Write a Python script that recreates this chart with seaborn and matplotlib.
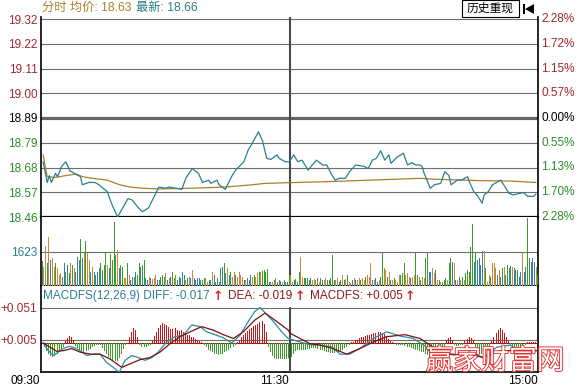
import numpy as np
import pandas as pd
import matplotlib
matplotlib.use("Agg")
import matplotlib.pyplot as plt
import seaborn as sns
from matplotlib.patches import Rectangle, Polygon
import matplotlib.patheffects as pe

sns.set_theme(style="white")
plt.rcParams['font.family'] = ['Liberation Sans', 'Noto Sans CJK SC', 'DejaVu Sans']
plt.rcParams['axes.unicode_minus'] = False

# ---------------- data ----------------
price_labels = ["19.32", "19.22", "19.11", "19.00", "18.89", "18.79", "18.68", "18.57", "18.46"]
pct_labels = ["2.28%", "1.72%", "1.15%", "0.57%", "0.00%", "0.55%", "1.13%", "1.70%", "2.28%"]
time_labels = ["09:30", "11:30", "15:00"]
time_pos = [0, 120, 240]

price_min = [1, 3, 4, 5, 7, 8, 10, 12, 14, 16,
             19, 20, 23, 26, 28, 32, 34, 37, 42, 44,
             47, 49, 52, 55, 57, 60, 62, 65, 68, 70,
             73, 76, 78, 81, 82, 85, 86, 89, 92, 94,
             98, 100, 102, 105, 107, 109, 111, 114, 115, 118,
             120, 122, 124, 126, 127, 129, 131, 133, 136, 138,
             140, 142, 144, 147, 149, 152, 156, 158, 160, 162,
             164, 166, 168, 169, 172, 175, 177, 179, 181, 183,
             184, 185, 188, 190, 193, 195, 197, 198, 201, 203,
             206, 207, 209, 211, 213, 214, 216, 218, 222, 224,
             226, 228, 230, 233, 235, 238, 239]
price_val = [18.70, 18.61, 18.64, 18.61, 18.65, 18.635, 18.68, 18.70, 18.66, 18.65,
             18.635, 18.60, 18.61, 18.61, 18.60, 18.57, 18.52, 18.46, 18.54, 18.534,
             18.50, 18.483, 18.50, 18.556, 18.59, 18.585, 18.59, 18.585, 18.58, 18.63,
             18.67, 18.65, 18.61, 18.62, 18.606, 18.62, 18.60, 18.58, 18.635, 18.664,
             18.70, 18.75, 18.78, 18.83, 18.79, 18.715, 18.71, 18.73, 18.715, 18.70,
             18.70, 18.73, 18.70, 18.707, 18.693, 18.664, 18.686, 18.707, 18.686, 18.686,
             18.65, 18.62, 18.628, 18.628, 18.657, 18.686, 18.68, 18.67, 18.707, 18.715,
             18.748, 18.707, 18.73, 18.693, 18.72, 18.737, 18.686, 18.696, 18.686, 18.686,
             18.68, 18.65, 18.585, 18.60, 18.606, 18.657, 18.64, 18.60, 18.62, 18.62,
             18.635, 18.61, 18.57, 18.55, 18.52, 18.556, 18.57, 18.60, 18.62, 18.592,
             18.563, 18.556, 18.56, 18.566, 18.55, 18.55, 18.56]

avg_min = [1, 3, 7, 12, 17, 20, 25, 32, 38, 43, 49, 57, 73, 89, 102, 108, 123, 136, 159, 183, 190, 212, 227, 239]
avg_val = [18.73, 18.635, 18.632, 18.64, 18.647, 18.635, 18.628, 18.62, 18.60, 18.59, 18.585, 18.582,
           18.585, 18.59, 18.60, 18.606, 18.61, 18.613, 18.62, 18.628, 18.624, 18.618, 18.616, 18.61]

vol_am = [1190, 920, 1910, 1080, 2350, 1240, 1320, 920, 1080, 840,
          520, 600, 450, 1080, 680, 1000, 600, 1080, 1000, 840,
          680, 1400, 1240, 2230, 1320, 1560, 2160, 1560, 1240, 680,
          920, 680, 520, 680, 840, 1080, 760, 1000, 1590, 1000,
          840, 1530, 1240, 3050, 1480, 1720, 840, 1000, 920, 370,
          370, 1080, 520, 290, 450, 450, 680, 520, 1080, 920,
          1000, 1240, 370, 290, 450, 370, 320, 370, 520, 290,
          290, 450, 520, 450, 600, 290, 370, 450, 680, 370,
          520, 290, 450, 370, 680, 520, 290, 370, 450, 370,
          760, 370, 290, 370, 370, 290, 290, 370, 370, 210,
          290, 290, 680, 520, 210, 370, 210, 840, 920, 1110,
          600, 840, 520, 680, 450, 680, 520, 450, 680, 520,
          450, 290, 290, 370, 290, 520, 450, 520, 450, 600,
          680, 680, 730, 760, 680, 800, 210, 210, 210, 290,
          370, 210, 290, 250, 210, 290, 210, 210, 520]
vol_am_kind = ("toogotoogo" "oottgtgogo" "tttgtogoot" "otgttgtggo" "tggggotggo"
               "ogottgtggt" "ggttotooot" "tggtototgg" "otgttgotot" "ottttgtgoo"
               "gtotgttgtg" "totgootooo" "ototgtogoo" "goggggttog" "otgtotgtg")
vol_pm = [520, 210, 290, 330, 210, 680, 1400, 450, 370, 370,
          400, 290, 370, 290, 320, 290, 370, 210, 370, 290,
          290, 370, 290, 290, 370, 1480, 290, 290, 370, 210,
          290, 520, 290, 320, 520, 210, 130, 290, 370, 290,
          290, 370, 290, 370, 290, 450, 520, 450, 1110, 290,
          290, 370, 210, 290, 450, 1590, 840, 760, 450, 680,
          290, 290, 370, 290, 210, 520, 520, 600, 1080, 520,
          600, 450, 370, 450, 520, 1560, 520, 450, 290, 450,
          370, 1320, 1590, 680, 680, 840, 600, 760, 290, 290,
          210, 210, 290, 370, 290, 1080, 1320, 1160, 1080, 290,
          290, 450, 290, 450, 290, 600, 760, 680, 1880, 2960,
          1160, 1560, 1240, 1320, 1000, 1690, 1690, 840, 210, 520,
          450, 1080, 1080, 840, 520, 760, 450, 840, 920, 520,
          1000, 840, 950, 920, 840, 760, 760, 450, 680, 1560,
          680, 920, 3230, 1320, 1160, 1320, 1160, 920, 520]
vol_pm_kind = ("ootgtgoogt" "gtgoootogt" "ootgggtoot" "gotogootot" "oogoogooot"
               "ottoggoogo" "togooogggo" "ootooggoto" "oggttootog" "otggoggtot"
               "otogoggggg" "tgttttogoo" "gooototgot" "gtgottgtto" "ttggtttog")
vol_ref = 1623

diff_min = [1.1, 3.5, 5.9, 8.4, 10.8, 13.2, 15.6, 18.8, 22.1, 25.3,
            28.5, 31.7, 34.9, 37.8, 40.6, 43.8, 47.0, 50.2, 53.5, 56.6,
            60.7, 64.7, 68.7, 72.8, 76.8, 80.0, 84.0, 88.0, 92.1, 96.1,
            100.1, 103.3, 105.8, 109.0, 112.2, 116.2, 119.4,
            125.1, 129.9, 134.7, 140.4, 144.4, 149.2, 154.9, 160.5, 166.9, 173.4,
            179.8, 186.3, 189.4, 194.3, 200.7, 207.2, 213.6, 220.1, 226.5, 231.3, 236.1, 239.4]
diff_val = [0, -11, -18, -13, -8, -5, -6, -11, -18, -16,
            -16, -28, -35, -42, -25, -18, -21, -25, -21, -13,
            1.5, 9, 11, 26, 23.5, 16, 12, 7.5, 0, 11,
            31, 45.5, 51, 41, 31, 16, 6.5,
            1.5, -2.5, -3, -6, -16, -16, -6, 6.5, 16, 10,
            6.5, -6, -21, -16, -16, -13, -21, -6, -3, -11, -11, -11]

dea_min = [1.1, 4.3, 7.6, 10.8, 14.8, 18.8, 23.7, 28.5, 33.3, 39.0,
           43.0, 47.8, 52.6, 57.5, 62.3, 67.1, 72.0, 77.6, 83.2, 88.0,
           92.9, 97.7, 103.3, 108.2, 113.8, 119.4, 120.2, 125.1, 129.9, 134.7,
           141.2, 147.6, 154.0, 160.5, 166.9, 175.8, 183.0, 187.9, 192.7, 199.1,
           207.2, 213.6, 221.7, 229.7, 239.4]
dea_val = [0, -6, -12, -11, -8, -13, -16, -16, -23, -35,
           -30, -24, -21, -13, -1, 9, 16, 23.5, 18.5, 12,
           6.5, 16, 33, 43, 31, 18.5, 14, 6.5, -1, -3,
           -8, -16, -8, 1.5, 9, 12, 6.5, -3, -13, -17,
           -16, -21, -11, -11, -11]

# MACD histogram, one value per minute (x 0.001)
hist_val = [0,
            -5, -10, -14, -17, -18, -17, -15, -12, -8, -4,
            3, 7, 10, 8, 4,
            -3, -6, -9, -11, -11, -10, -9, -7, -5, -3,
            -2, -1, -2,
            -6, -10, -14, -18, -21, -24, -25, -24, -20, -14, -7,
            -2, 0,
            8, 16, 21, 18, 9,
            -2, -4, -5, -4, -3, -1,
            5, 10, 16, 22, 26, 29, 28, 26, 23, 20, 20, 21, 19, 17, 18, 16, 14, 12, 11, 9, 8, 6, 5, 3, 2,
            -2, -5, -8, -10, -12, -14, -15, -16, -15, -14, -12, -10, -8, -6, -4, -2,
            2, 5, 8, 11, 14, 17, 20, 22, 24, 26, 28, 30, 31, 27, 16,
            -5, -12, -17, -20, -21, -22, -22, -22, -21, -21, -20,
            -18, -14, -10, -9, -9, -8, -9, -8, -7, -7, -6, -6, -6, -7, -8, -9, -10, -11, -12, -13,
            -13, -13, -12, -11, -10, -8, -6, -4, -2,
            1, 2, 4, 5, 7, 8, 9, 10, 11, 12, 13, 14, 15, 16, 16, 15, 13, 10, 6, 3,
            1, 0, -1, -1, -2, -2,
            -3, -4, -5, -6, -7, -8, -9, -10, -11, -12, -14, -16, -18, -20, -21, -20, -17, -13, -8, -4,
            3, 7, 8, 4,
            -2, -3, -3, -2, -1,
            3, 6, 8, 7, 3,
            -4, -9, -13, -15, -15, -12, -8, -3,
            3, 8, 14, 19, 21, 19, 14, 8, 3,
            -2, -4, -6, -6, -5, -4, -3, -2,
            1, 2, 2, 1, 1, 1]
macd_ticks = [0.051, 0.005]
macd_labels = ["+0.051", "+0.005"]

# ---------------- styling ----------------
RED = '#a02828'
GREEN = '#2e8b2e'
TEAL = '#2a7f8e'
GOLD = '#a8802a'
GRID = '#6e6e6e'
VOLC = {'g': '#3a9a2a', 'o': '#c48a3a', 't': '#3a80a6'}

W, H = 580, 389
L, R = 41, 538
fig = plt.figure(figsize=(W / 100, H / 100), dpi=100)
fig.patch.set_facecolor('white')


def box(top, bottom):
    return [L / W, 1 - bottom / H, (R - L) / W, (bottom - top) / H]


def fx(x):
    return x / W


def fy(y):
    return 1 - y / H


ax_p = fig.add_axes(box(17, 217))
ax_v = fig.add_axes(box(217, 286))
ax_m = fig.add_axes(box(286, 372))

for ax in (ax_p, ax_v, ax_m):
    ax.set_facecolor('white')
    ax.grid(False)
    ax.set_xlim(0, 240)
    for s in ('left', 'right'):
        ax.spines[s].set_color('black')
        ax.spines[s].set_linewidth(1.2)
    ax.spines['top'].set_visible(False)
    ax.spines['bottom'].set_color('black')
    ax.set_xticks([])

# ---- price panel ----
grid_pos = np.linspace(19.32, 18.46, 9)   # same order as price_labels (top to bottom)
step_px = (19.32 - 18.46) / 198
ax_p.set_ylim(18.46, 19.32 + 2 * step_px)
for i, g in enumerate(grid_pos):
    if price_labels[i] == "18.89":
        ax_p.axhline(g, color='#666666', lw=2.3, zorder=1)
    elif i < len(grid_pos) - 1:
        ax_p.axhline(g, color=GRID, lw=0.8, zorder=1)
ax_p.spines['bottom'].set_linewidth(1.6)

df_price = pd.DataFrame({'minute': price_min, 'price': price_val})
df_avg = pd.DataFrame({'minute': avg_min, 'price': avg_val})
sns.lineplot(data=df_avg, x='minute', y='price', ax=ax_p, color='#b07d2b', lw=0.9,
             estimator=None, sort=False, zorder=3)
sns.lineplot(data=df_price, x='minute', y='price', ax=ax_p, color=TEAL, lw=0.9,
             estimator=None, sort=False, zorder=4)
ax_p.set_xlabel('')
ax_p.set_ylabel('')
ax_p.set_xlim(0, 240)
ax_p.set_xticks([])

label_colors = [RED] * 4 + ['black'] + [GREEN] * 4
ax_p.set_yticks(grid_pos)
ax_p.set_yticklabels(price_labels, fontsize=8.5)
for lbl, c in zip(ax_p.get_yticklabels(), label_colors):
    lbl.set_color(c)
ax_p.tick_params(axis='y', length=0, pad=2.5)
for g, lab, c in zip(grid_pos, pct_labels, label_colors):
    ax_p.text(1 + 3 / (R - L), g, lab, transform=ax_p.get_yaxis_transform(),
              ha='left', va='center', fontsize=8.5, color=c, clip_on=False)
ax_p.axvline(120, color='#4a4a4a', lw=1.5, zorder=2)

# ---- volume panel ----
x_am = np.linspace(0.4, 119.6, len(vol_am))
x_pm = np.linspace(120.4, 239.6, len(vol_pm))
vx = np.concatenate([x_am, x_pm])
vv = np.array(vol_am + vol_pm)
vc = [VOLC[k] for k in (vol_am_kind + vol_pm_kind)]
ax_v.set_ylim(0, vol_ref * 69 / 34)
ax_v.axhline(vol_ref, color=GRID, lw=0.8, zorder=1)
ax_v.vlines(vx, 0, vv, colors=vc, lw=0.55, zorder=3, antialiased=False)
ax_v.set_yticks([vol_ref])
ax_v.set_yticklabels([str(vol_ref)], fontsize=8.5, color=TEAL)
ax_v.tick_params(axis='y', length=0, pad=2.5)
ax_v.spines['bottom'].set_linewidth(1.5)
ax_v.axvline(120, color='#4a4a4a', lw=1.5, zorder=2)

# ---- MACD panel ----
unit = 0.001
ax_m.set_ylim(-0.0417, 0.0819)
for t in macd_ticks:
    ax_m.axhline(t, color=GRID, lw=0.8, zorder=1)
ax_m.axhline(0, color='#8b1a1a', lw=0.8, zorder=2)
hx = np.arange(len(hist_val)) + 0.5
hv = np.array(hist_val) * unit
hc = ['#c01818' if v > 0 else '#3c9a28' for v in hv]
ax_m.vlines(hx, 0, hv, colors=hc, lw=0.55, zorder=3, antialiased=False)
df_diff = pd.DataFrame({'minute': diff_min, 'v': np.array(diff_val) * unit})
df_dea = pd.DataFrame({'minute': dea_min, 'v': np.array(dea_val) * unit})
sns.lineplot(data=df_diff, x='minute', y='v', ax=ax_m, color='#2a8fa0', lw=0.9,
             estimator=None, sort=False, zorder=5)
sns.lineplot(data=df_dea, x='minute', y='v', ax=ax_m, color='#7b1010', lw=0.9,
             estimator=None, sort=False, zorder=6)
ax_m.set_xlabel('')
ax_m.set_ylabel('')
ax_m.set_xlim(0, 240)
ax_m.set_xticks([])
ax_m.set_yticks(macd_ticks)
ax_m.set_yticklabels(macd_labels, fontsize=8.5, color=RED)
ax_m.tick_params(axis='y', length=0, pad=2.5)
ax_m.spines['bottom'].set_linewidth(1.2)
ax_m.axvline(120, ymin=0, ymax=(372 - 307.5) / 86, color='#4a4a4a', lw=1.5, zorder=4)

# MACD header
hy = fy(296)
fig.text(fx(43), hy, "MACDFS(12,26,9) DIFF: -0.017", color='#2a7f8e', fontsize=8.5, va='center')
fig.text(fx(213), hy, "↑", color='#e02020', fontsize=9, fontweight='bold', va='center',
         family='DejaVu Sans')
fig.text(fx(228), hy, "DEA: -0.019", color='#8b1a1a', fontsize=8.5, va='center')
fig.text(fx(295), hy, "↑", color='#e02020', fontsize=9, fontweight='bold', va='center',
         family='DejaVu Sans')
fig.text(fx(310), hy, "MACDFS: +0.005", color='#8b1a1a', fontsize=8.5, va='center')
fig.text(fx(405), hy, "↑", color='#e02020', fontsize=9, fontweight='bold', va='center',
         family='DejaVu Sans')

# title row
fig.text(fx(42), fy(8), "分时 均价: 18.63", color=GOLD, fontsize=8.8, va='center')
fig.text(fx(136), fy(8), "最新: 18.66", color='#2a8080', fontsize=8.8, va='center')

# history button and icon
fig.add_artist(Rectangle((fx(462), fy(17)), 57 / W, 17 / H, transform=fig.transFigure,
                         facecolor='white', edgecolor='black', lw=0.8))
fig.text(fx(490.5), fy(8.5), "历史重现", color='black', fontsize=8.5, ha='center', va='center')
fig.add_artist(Rectangle((fx(522.5), fy(14)), 2 / W, 10 / H, transform=fig.transFigure,
                         facecolor='black', edgecolor='none'))
fig.add_artist(Polygon([(fx(525), fy(9)), (fx(534), fy(4)), (fx(534), fy(14))],
                       closed=True, transform=fig.transFigure, facecolor='black', edgecolor='none'))

# watermark
wm = fig.text(fx(495), fy(361), "赢家财富网", fontsize=20, ha='center', va='center',
              family=['Noto Sans CJK SC'], color='white', zorder=4)
wm.set_path_effects([pe.withStroke(linewidth=1.3, foreground='#e03030')])

# time labels
time_px = [40, 289, 538]
for tp, lab in zip(time_px, time_labels):
    fig.text(fx(tp), fy(381), lab, fontsize=8.5, color='black', ha='right', va='center', zorder=6)

fig.savefig("out.png", dpi=100, facecolor='white')
